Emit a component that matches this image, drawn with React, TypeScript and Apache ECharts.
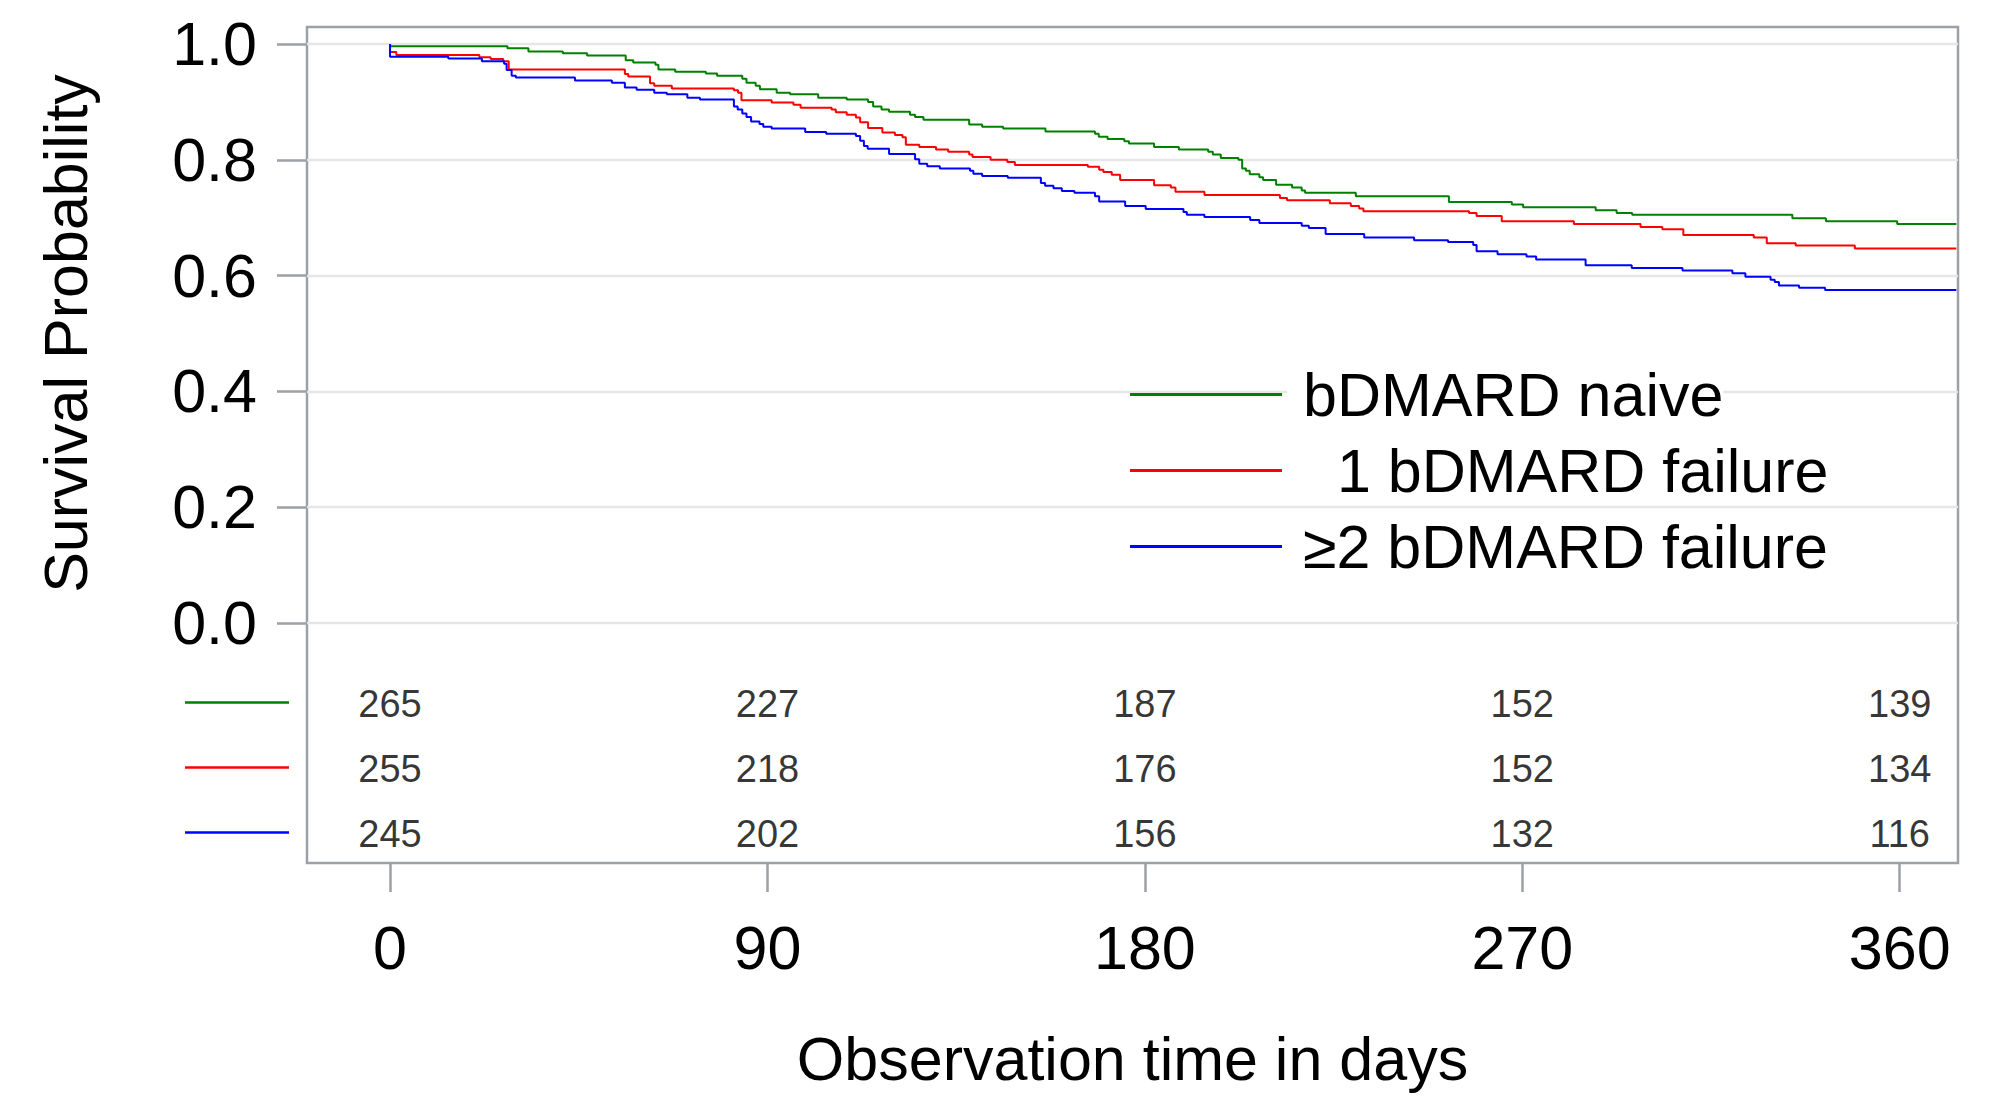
import React, { useEffect, useRef } from "react";
import * as echarts from "echarts";

const FONT = "'Liberation Sans', Arial, sans-serif";

const seriesNames = ["bDMARD naive", "1 bDMARD failure", "\u22652 bDMARD failure"];
const seriesColors = ["#008000", "#ff0000", "#0000ff"];

const xTicks = [0, 90, 180, 270, 360];
const yTicks = [0, 0.2, 0.4, 0.6, 0.8, 1.0];

const naive: number[][] = [
  [0, 1], [0, 0.996], [28, 0.9925], [33, 0.987], [41.2, 0.984], [47, 0.98], [56.2, 0.972], [58, 0.968],
  [63.3, 0.964], [64, 0.956], [68, 0.952], [75.3, 0.949], [78, 0.945], [84, 0.94], [85, 0.933], [87.2, 0.928],
  [88.2, 0.922], [92.2, 0.916], [95.4, 0.913], [102.1, 0.907], [108.9, 0.904], [114, 0.9], [115.2, 0.892],
  [117.2, 0.887], [119, 0.883], [124, 0.878], [125.2, 0.874], [127.2, 0.869], [138.1, 0.861], [141.2, 0.857],
  [146.2, 0.854], [156.3, 0.849], [168.1, 0.845], [169, 0.84], [171.1, 0.836], [175.1, 0.832], [176.2, 0.828],
  [182.2, 0.822], [188.1, 0.818], [195.1, 0.814], [196.2, 0.809], [198.1, 0.803], [202.3, 0.8], [203.2, 0.785],
  [204.1, 0.781], [205, 0.775], [207.3, 0.77], [208.2, 0.765], [211.3, 0.757], [215.1, 0.752], [217.4, 0.747],
  [218.2, 0.743], [230.3, 0.737], [252.5, 0.727], [267.5, 0.723], [270.2, 0.718], [287.5, 0.713], [292.5, 0.708],
  [296.2, 0.705], [334.4, 0.699], [342.4, 0.694], [359.4, 0.689], [373.5, 0.689],
];

const oneFailure: number[][] = [
  [0, 1], [0, 0.986], [1.5, 0.981], [21.3, 0.977], [24, 0.974], [27, 0.97], [28.3, 0.956], [56, 0.948],
  [56.8, 0.944], [62, 0.932], [63, 0.928], [67.2, 0.923], [82, 0.92], [83, 0.916], [83.8, 0.903], [91, 0.899],
  [96.2, 0.895], [97.9, 0.89], [105.3, 0.887], [106.3, 0.882], [108.9, 0.878], [111.1, 0.873], [112.1, 0.865],
  [114, 0.855], [117.4, 0.847], [120.4, 0.843], [122.2, 0.839], [123, 0.826], [126.2, 0.822], [130.2, 0.818],
  [133.1, 0.814], [138.1, 0.809], [138.9, 0.805], [143.2, 0.8], [147.2, 0.796], [149, 0.791], [166.4, 0.788],
  [169.1, 0.783], [170.1, 0.779], [172.1, 0.774], [174.1, 0.765], [182.2, 0.756], [186.2, 0.752], [187.3, 0.745],
  [194.2, 0.739], [212.2, 0.734], [213.9, 0.73], [224.1, 0.725], [229.1, 0.72], [231.1, 0.716], [232.1, 0.711],
  [257.3, 0.708], [259.1, 0.703], [265.1, 0.694], [282.3, 0.689], [298.2, 0.684], [303.4, 0.68], [308.4, 0.67],
  [325.2, 0.666], [328.3, 0.656], [335.2, 0.652], [349.3, 0.647], [373.5, 0.647],
];

const twoFailures: number[][] = [
  [0, 1], [0, 0.978], [13.9, 0.975], [21.9, 0.97], [27.2, 0.966], [27.8, 0.955], [29, 0.945], [30, 0.942],
  [44.1, 0.937], [52.9, 0.933], [56, 0.925], [58.8, 0.921], [63, 0.916], [66, 0.913], [70.9, 0.907], [73.9, 0.904],
  [82, 0.892], [82.9, 0.887], [84, 0.88], [85, 0.874], [86.1, 0.866], [88.1, 0.862], [89, 0.857], [91, 0.854],
  [99, 0.848], [104, 0.845], [111.1, 0.841], [112.1, 0.833], [113, 0.824], [113.9, 0.819], [119, 0.81],
  [125.2, 0.801], [126.2, 0.793], [128.1, 0.789], [131.1, 0.785], [138.3, 0.781], [139.1, 0.776], [141.2, 0.772],
  [147.3, 0.769], [155.2, 0.76], [156.2, 0.755], [158.2, 0.751], [160.2, 0.746], [163.2, 0.743], [168.1, 0.737],
  [169.1, 0.728], [175.3, 0.72], [180.2, 0.715], [189.2, 0.71], [190, 0.705], [194.2, 0.701], [205.1, 0.696],
  [207.3, 0.691], [217.4, 0.686], [219.1, 0.682], [223.1, 0.672], [232.3, 0.666], [244.2, 0.661], [252.3, 0.658],
  [258.3, 0.653], [259.1, 0.642], [264.1, 0.637], [271, 0.633], [273.3, 0.628], [285.1, 0.618], [296.1, 0.613],
  [308.2, 0.609], [320.1, 0.604], [323.2, 0.598], [329.2, 0.593], [330.2, 0.589], [331.2, 0.583], [336, 0.579],
  [342.2, 0.575], [373.5, 0.575],
];

const atRiskRows = ["naive", "one", "two"];
const atRiskNaive = [265, 227, 187, 152, 139];
const atRiskOne = [255, 218, 176, 152, 134];
const atRiskTwo = [245, 202, 156, 132, 116];

const curves = [naive, oneFailure, twoFailures];
const atRisk = [atRiskNaive, atRiskOne, atRiskTwo];

// layout
const W = 1993;
const H = 1099;
const XMIN = -19.8;
const XMAX = 373.9;
const FRAME = { left: 307, top: 27, right: W - 1958, bottom: H - 863 };
const CURVE_GRID = { left: 307, top: 44, right: W - 1958, bottom: H - 623 };
const TABLE_GRID = { left: 307, top: 671, right: W - 1958, bottom: H - 866 };
const GRAY = "#9da0a4";
const BIG = 61;

export default function App() {
  const ref = useRef<HTMLDivElement>(null);

  useEffect(() => {
    if (!ref.current) return;
    const chart = echarts.init(ref.current, undefined, { renderer: "svg" });

    const hiddenX = (gridIndex: number) => ({
      type: "value" as const,
      gridIndex,
      min: XMIN,
      max: XMAX,
      show: false,
    });

    const tableData: any[] = [];
    atRisk.forEach((row, r) => {
      row.forEach((v, i) => {
        tableData.push([xTicks[i], atRiskRows[r], v]);
      });
    });

    const bandH = (H - TABLE_GRID.top - TABLE_GRID.bottom) / atRiskRows.length;
    const keyYs = atRiskRows.map((_, i) => TABLE_GRID.top + bandH * (i + 0.5) - 1);

    chart.setOption({
      animation: false,
      textStyle: { fontFamily: FONT },
      grid: [
        { ...FRAME, show: true, borderColor: GRAY, borderWidth: 2.5, backgroundColor: "transparent" },
        { ...CURVE_GRID, show: false },
        { ...TABLE_GRID, show: false },
      ],
      xAxis: [
        {
          type: "value",
          gridIndex: 0,
          min: XMIN,
          max: XMAX,
          axisLine: { show: false, onZero: false },
          splitLine: { show: false },
          axisTick: {
            show: true,
            customValues: xTicks,
            length: 29,
            inside: false,
            lineStyle: { color: GRAY, width: 2.5 },
          },
          axisLabel: {
            customValues: xTicks,
            fontSize: BIG,
            color: "#000",
            margin: 54,
            fontFamily: FONT,
          },
          name: "Observation time in days",
          nameLocation: "middle",
          nameGap: 165,
          nameTextStyle: { fontSize: BIG, color: "#000", fontFamily: FONT },
        },
        hiddenX(1),
        hiddenX(2),
      ],
      yAxis: [
        { type: "value", gridIndex: 0, min: 0, max: 1, show: false },
        {
          type: "value",
          gridIndex: 1,
          min: 0,
          max: 1,
          interval: 0.2,
          axisLine: { show: false, onZero: false },
          axisTick: { show: true, length: 30, lineStyle: { color: GRAY, width: 2.5 } },
          axisLabel: {
            fontSize: BIG,
            color: "#000",
            margin: 50,
            fontFamily: FONT,
            formatter: (v: number) => v.toFixed(1),
          },
          splitLine: { show: true, lineStyle: { color: "#e6e6e6", width: 2.3 } },
          name: "Survival Probability",
          nameLocation: "middle",
          nameGap: 211,
          nameTextStyle: { fontSize: BIG, color: "#000", fontFamily: FONT },
        },
        {
          type: "category",
          gridIndex: 2,
          data: atRiskRows,
          inverse: true,
          show: false,
        },
      ],
      legend: {
        orient: "vertical",
        left: 1130,
        top: 364,
        padding: 0,
        icon: "rect",
        itemWidth: 152,
        itemHeight: 3,
        itemGap: 15,
        data: seriesNames,
        textStyle: {
          fontSize: BIG,
          lineHeight: 60,
          color: "#000",
          fontFamily: FONT,
          backgroundColor: "#fff",
          padding: [0, 0, 0, 16],
        },
        formatter: (name: string) => (name === seriesNames[1] ? "\u00a0\u00a0" + name : name),
      },
      series: [
        ...curves.map((d, i) => ({
          type: "line",
          name: seriesNames[i],
          xAxisIndex: 1,
          yAxisIndex: 1,
          data: d,
          step: "end",
          symbol: "none",
          clip: false,
          color: seriesColors[i],
          lineStyle: { color: seriesColors[i], width: 2 },
          z: 3,
        })),
        {
          type: "scatter",
          name: "at risk",
          xAxisIndex: 2,
          yAxisIndex: 2,
          data: tableData,
          symbolSize: 0,
          silent: true,
          label: {
            show: true,
            position: "inside",
            fontSize: 38,
            color: "#000",
            fontFamily: FONT,
            formatter: (p: any) => String(p.value[2]),
          },
        },
      ],
      graphic: keyYs.map((y, i) => ({
        type: "line",
        shape: { x1: 185, y1: y, x2: 289, y2: y },
        style: { stroke: seriesColors[i], lineWidth: 2.5 },
        silent: true,
      })),
    });

    return () => chart.dispose();
  }, []);

  return (
    <div
      ref={ref}
      style={{ position: "absolute", left: 0, top: 0, width: W, height: H, background: "#fff" }}
    />
  );
}
